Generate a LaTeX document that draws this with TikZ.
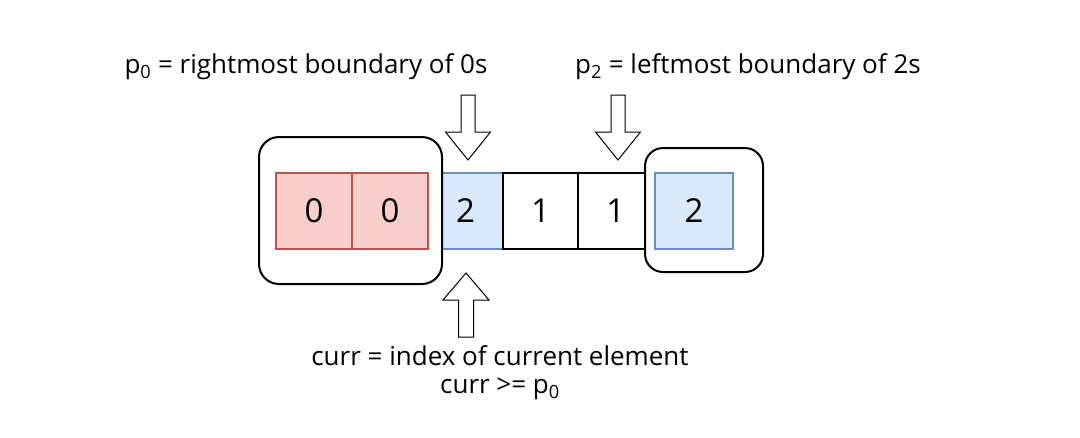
\documentclass[tikz,border=0pt]{standalone}
\usepackage{fontspec}
\setmainfont{Open Sans}
\usepackage{tikz}
\usetikzlibrary{positioning}

\definecolor{redfill}{HTML}{F8CECC}
\definecolor{redline}{HTML}{B85450}
\definecolor{bluefill}{HTML}{DAE8FC}
\definecolor{blueline}{HTML}{6C8EBF}

\begin{document}
\begin{tikzpicture}[x=1pt, y=-1pt,
    cell/.style={draw, minimum width=75pt, minimum height=76pt, inner sep=0pt,
        outer sep=0pt, line width=1.3pt, font=\fontsize{33}{36}\selectfont},
    redcell/.style={cell, draw=redline, fill=redfill, minimum width=76pt},
    bluecell/.style={cell, draw=blueline, fill=bluefill},
    groupbox/.style={draw, fill=white, rounded corners=20pt, line width=2pt, inner sep=0pt},
    label/.style={font=\fontsize{26}{28}\selectfont, align=center},
    blockarrow/.style={draw, fill=white, line width=1pt, line join=miter}]

    \useasboundingbox (0,0) rectangle (1080,437);

    % 中间的数组元素
    \node[bluecell] (cur) at (465.5,211) {2};
    \node[cell, right=0pt of cur] (oneA) {1};
    \node[cell, right=0pt of oneA] (oneB) {1};

    % 两个分组框
    \node[groupbox, minimum width=183pt, minimum height=147pt] (zeroBox) at (350.5,210.5) {};
    \node[groupbox, rounded corners=18pt, minimum width=118pt, minimum height=124pt] (twoBox) at (704,210) {};

    % 框内的元素
    \node[redcell] (zeroB) at (390,211) {0};
    \node[redcell, left=0pt of zeroB] (zeroA) {0};
    \node[bluecell, minimum width=78pt] (twoR) at (694,211) {2};

    % 指针箭头
    \foreach \cx in {468,618}
        \draw[blockarrow] (\cx-7,95) -- (\cx+7,95) -- (\cx+7,132) -- (\cx+22.5,132)
            -- (\cx,160) -- (\cx-22.5,132) -- (\cx-7,132) -- cycle;
    \draw[blockarrow] (458.5,337) -- (473.5,337) -- (473.5,300) -- (489,300)
        -- (466,273) -- (443,300) -- (458.5,300) -- cycle;

    % 添加标签
    \node[label] (p0text) at (306,67) {p\textsubscript{0} = rightmost boundary of 0s};
    \node[label] (p2text) at (748,67) {p\textsubscript{2} = leftmost boundary of 2s};
    \node[label] (currtext) at (500,373) {curr = index of current element\\curr >= p\textsubscript{0}};
\end{tikzpicture}
\end{document}
